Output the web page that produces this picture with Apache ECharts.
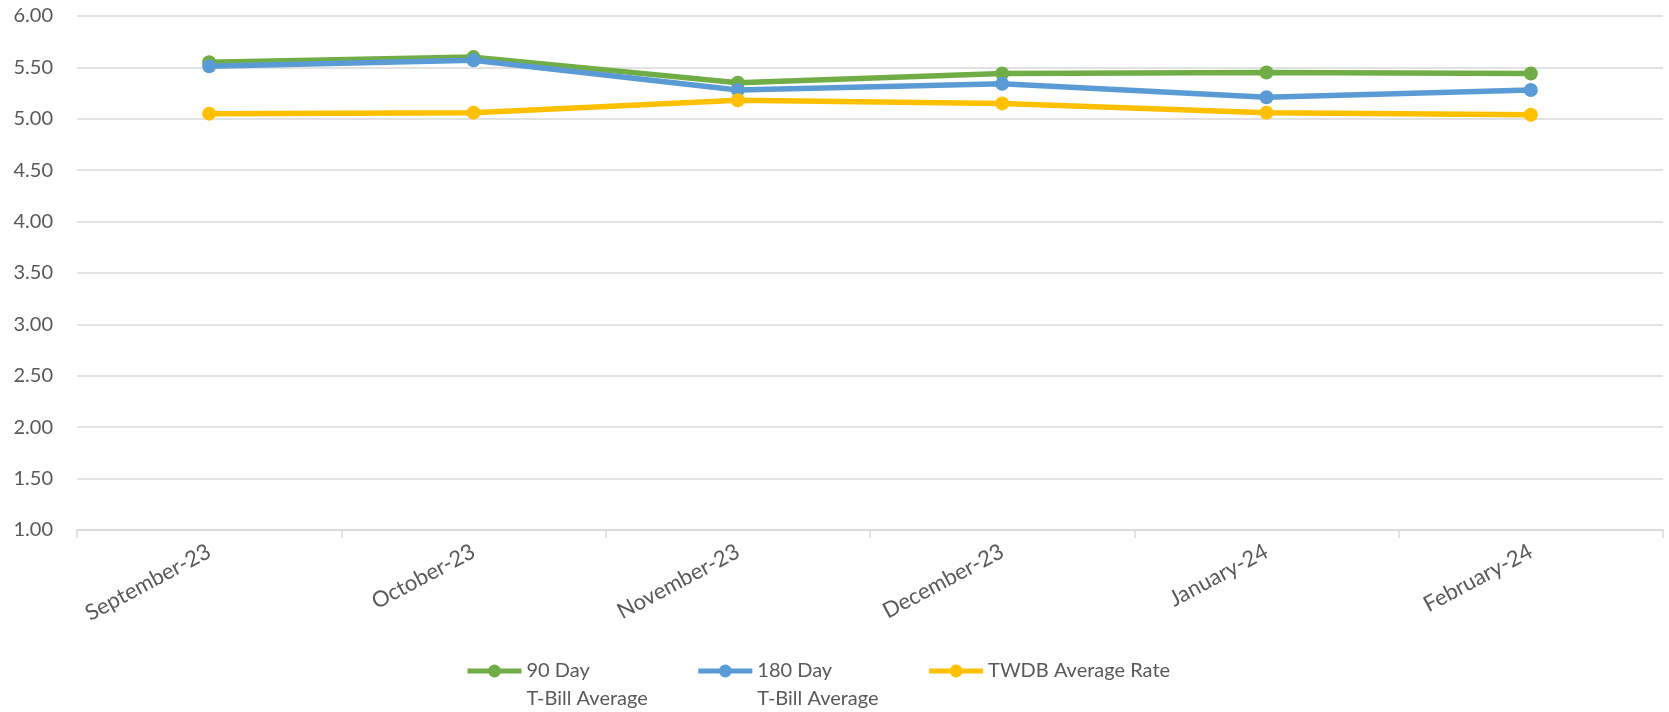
<!DOCTYPE html>
<html>
<head>
<meta charset="utf-8">
<script src="https://cdn.jsdelivr.net/npm/echarts@6/dist/echarts.min.js"></script>
<style>html,body{margin:0;padding:0;background:#fff}#chart{width:1669px;height:712px}</style>
</head>
<body>
<div id="chart"></div>
<script>
const categories = ['September-23','October-23','November-23','December-23','January-24','February-24'];
const seriesNames = ['90 Day\nT-Bill Average','180 Day\nT-Bill Average','TWDB Average Rate'];
const tBill90 = [5.55, 5.60, 5.35, 5.44, 5.45, 5.44];
const tBill180 = [5.51, 5.57, 5.28, 5.34, 5.21, 5.28];
const twdbRate = [5.05, 5.06, 5.18, 5.15, 5.06, 5.04];
const colors = ['#70AD47','#5B9BD5','#FFC000'];
const FONT = 'Lato';

const chart = echarts.init(document.getElementById('chart'), null, {renderer:'canvas'});
function mk(name, data, color){
  return {
    name, type:'line', data,
    symbol:'circle', symbolSize:14,
    lineStyle:{color, width:5.5},
    itemStyle:{color},
    z: 2
  };
}
chart.setOption({
  animation:false,
  color: colors,
  grid:{left:77, right:6, top:16, bottom:182, containLabel:false},
  xAxis:{
    type:'category', data:categories, boundaryGap:true,
    axisLine:{show:true, lineStyle:{color:'#d9d9d9', width:1.5}},
    axisTick:{show:true, length:8, lineStyle:{color:'#d9d9d9', width:1.5}},
    axisLabel:{rotate:28, margin:20, color:'#595959', fontFamily:FONT, fontSize:22},
    splitLine:{show:false}
  },
  yAxis:{
    type:'value', min:1, max:6, interval:0.5,
    axisLine:{show:false}, axisTick:{show:false},
    axisLabel:{margin:24, color:'#595959', fontFamily:FONT, fontSize:20, formatter:v=>v.toFixed(2)},
    splitLine:{lineStyle:{color:'#d9d9d9', width:1.5}}
  },
  legend:{
    left:460, top:624, itemWidth:54, itemHeight:16, itemGap:48,
    lineStyle:{width:5},
    data: seriesNames,
    formatter: n => n.indexOf('\n') >= 0 ? ' \n' + n : n,
    textStyle:{color:'#595959', fontFamily:FONT, fontSize:20, lineHeight:28}
  },
  series:[mk(seriesNames[0], tBill90, colors[0]), mk(seriesNames[1], tBill180, colors[1]), mk(seriesNames[2], twdbRate, colors[2])]
});
</script>
</body>
</html>
